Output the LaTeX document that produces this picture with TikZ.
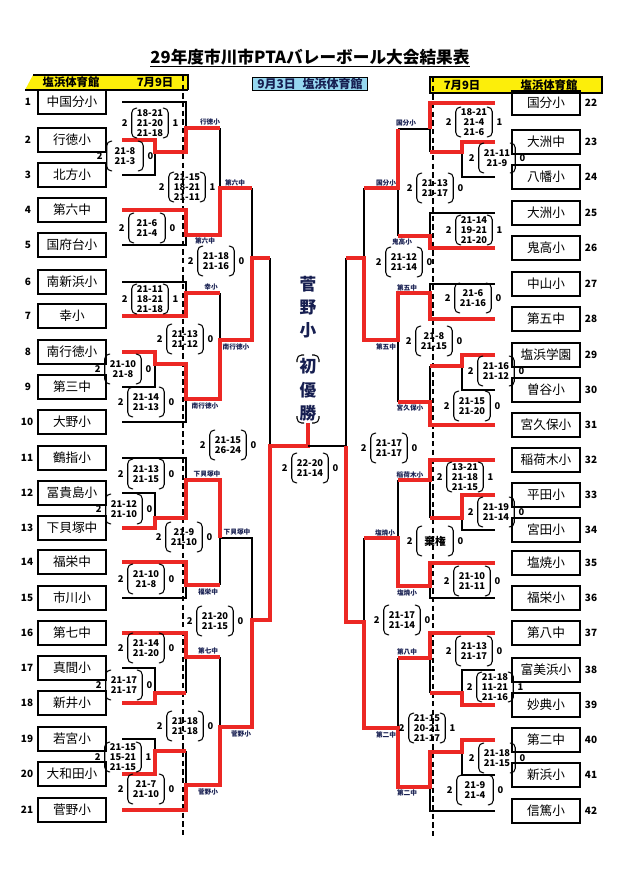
\documentclass[tikz,border=0pt]{standalone}
\usepackage{fontspec}
\setmainfont{Noto Sans CJK JP}
\usetikzlibrary{positioning}
\definecolor{lred}{RGB}{236,40,36}
\definecolor{navy}{RGB}{22,30,80}
\definecolor{hyellow}{RGB}{252,238,10}
\definecolor{hblue}{RGB}{150,215,240}

% score block: name, x, y, set scores, sets won by the other side
\newcommand{\matchres}[5]{%
  \node[scr] (#1) at (#2,#3) {#4};
  \node[pts, left=3pt of #1] (#1l) {2};
  \node[pts, right=3pt of #1] (#1r) {#5};
  \draw[paren] ([xshift=4pt]#1.north west) -- (#1.north west) -- (#1.south west) -- ([xshift=4pt]#1.south west);
  \draw[paren] ([xshift=-4pt]#1.north east) -- (#1.north east) -- (#1.south east) -- ([xshift=-4pt]#1.south east);
}

\begin{document}
\begin{tikzpicture}[x=0.75pt, y=-0.75pt,
    team/.style={draw, line width=0.9pt, minimum width=51pt, minimum height=18pt, inner sep=0pt, font=\fontsize{9.5}{10}\selectfont},
    num/.style={inner sep=0pt, font=\fontsize{7.5}{8}\selectfont\bfseries},
    scr/.style={align=center, inner sep=0pt, minimum width=27pt, minimum height=22pt, font=\fontsize{7}{7.3}\selectfont\bfseries},
    pts/.style={inner sep=0pt, font=\fontsize{7}{8}\selectfont\bfseries},
    paren/.style={line width=0.8pt, rounded corners=3.5pt},
    wlab/.style={inner sep=0pt, text=navy, font=\fontsize{5}{5}\selectfont\bfseries},
    barlab/.style={inner sep=0pt, font=\fontsize{8.5}{9}\selectfont\bfseries},
    champ/.style={align=center, inner sep=0pt, text=navy, font=\fontsize{12.5}{17.5}\selectfont\bfseries},
    lose/.style={line width=1.5pt, black},
    win/.style={line width=2.3pt, lred},
    guide/.style={dashed, line width=0.9pt, dash pattern=on 4pt off 2.5pt}
  ]
  \useasboundingbox (0,0) rectangle (624,874);

  % --- title and headers ---
  \node[inner xsep=0pt, font=\fontsize{12.5}{14}\selectfont\bfseries] (title) at (310,57) {29年度市川市PTAバレーボール大会結果表};
  \draw[line width=1pt] ([yshift=-2.5pt]title.base west) -- ([yshift=-2.5pt]title.base east);

  \fill[hyellow] (25,90) -- (33,75) -- (188,75) -- (188,90) -- cycle;
  \draw[line width=0.8pt] (33,75) -- (188,75) -- (188,90);
  \draw[line width=1.6pt] (25,90) -- (188,90);
  \node[barlab] (hl1) at (71,82) {塩浜体育館};
  \node[barlab] (hl2) at (155,82) {7月9日};

  \fill[hyellow] (430,77) rectangle (602,93);
  \draw[line width=0.8pt] (430,77) rectangle (602,93);
  \draw[line width=1.6pt] (430,93) -- (602,93);
  \node[barlab] (hr1) at (462,85) {7月9日};
  \node[barlab] (hr2) at (549,85) {塩浜体育館};

  \node[draw, line width=0.6pt, fill=hblue, text=navy, minimum width=86pt, minimum height=9.5pt, inner sep=0pt, font=\fontsize{9}{9}\selectfont\bfseries] (hc) at (310,84) {9月3日\hspace{5pt}塩浜体育館};

  % --- dashed guides ---
  \draw[guide] (183,76) -- (183,836);
  \draw[guide] (433,77) -- (433,836);

  % --- left teams ---
  \node[team] (t1) at (72,102) {中国分小};
  \node[team] (t2) at (72,140) {行徳小};
  \node[team] (t3) at (72,175) {北方小};
  \node[team] (t4) at (72,210) {第六中};
  \node[team] (t5) at (72,245) {国府台小};
  \node[team] (t6) at (72,282) {南新浜小};
  \node[team] (t7) at (72,316) {幸小};
  \node[team] (t8) at (72,352) {南行徳小};
  \node[team] (t9) at (72,387) {第三中};
  \node[team] (t10) at (72,422) {大野小};
  \node[team] (t11) at (72,458) {鶴指小};
  \node[team] (t12) at (72,493) {冨貴島小};
  \node[team] (t13) at (72,528) {下貝塚中};
  \node[team] (t14) at (72,562) {福栄中};
  \node[team] (t15) at (72,598) {市川小};
  \node[team] (t16) at (72,633) {第七中};
  \node[team] (t17) at (72,668) {真間小};
  \node[team] (t18) at (72,703) {新井小};
  \node[team] (t19) at (72,739) {若宮小};
  \node[team] (t20) at (72,774) {大和田小};
  \node[team] (t21) at (72,810) {菅野小};

  \node[num] (n1) at (28,102) {1};
  \node[num] (n2) at (28,140) {2};
  \node[num] (n3) at (28,175) {3};
  \node[num] (n4) at (28,210) {4};
  \node[num] (n5) at (28,245) {5};
  \node[num] (n6) at (28,282) {6};
  \node[num] (n7) at (28,316) {7};
  \node[num] (n8) at (28,352) {8};
  \node[num] (n9) at (28,387) {9};
  \node[num] (n10) at (27,422) {10};
  \node[num] (n11) at (27,458) {11};
  \node[num] (n12) at (27,493) {12};
  \node[num] (n13) at (27,528) {13};
  \node[num] (n14) at (27,562) {14};
  \node[num] (n15) at (27,598) {15};
  \node[num] (n16) at (27,633) {16};
  \node[num] (n17) at (27,668) {17};
  \node[num] (n18) at (27,703) {18};
  \node[num] (n19) at (27,739) {19};
  \node[num] (n20) at (27,774) {20};
  \node[num] (n21) at (27,810) {21};

  % --- right teams ---
  \node[team] (t22) at (546,103) {国分小};
  \node[team] (t23) at (546,142) {大洲中};
  \node[team] (t24) at (546,177) {八幡小};
  \node[team] (t25) at (546,213) {大洲小};
  \node[team] (t26) at (546,248) {鬼高小};
  \node[team] (t27) at (546,284) {中山小};
  \node[team] (t28) at (546,319) {第五中};
  \node[team] (t29) at (546,355) {塩浜学園};
  \node[team] (t30) at (546,390) {曽谷小};
  \node[team] (t31) at (546,425) {宮久保小};
  \node[team] (t32) at (546,460) {稲荷木小};
  \node[team] (t33) at (546,495) {平田小};
  \node[team] (t34) at (546,530) {宮田小};
  \node[team] (t35) at (546,563) {塩焼小};
  \node[team] (t36) at (546,598) {福栄小};
  \node[team] (t37) at (546,633) {第八中};
  \node[team] (t38) at (546,670) {富美浜小};
  \node[team] (t39) at (546,705) {妙典小};
  \node[team] (t40) at (546,740) {第二中};
  \node[team] (t41) at (546,775) {新浜小};
  \node[team] (t42) at (546,811) {信篤小};

  \node[num] (n22) at (591,103) {22};
  \node[num] (n23) at (591,142) {23};
  \node[num] (n24) at (591,177) {24};
  \node[num] (n25) at (591,213) {25};
  \node[num] (n26) at (591,248) {26};
  \node[num] (n27) at (591,284) {27};
  \node[num] (n28) at (591,319) {28};
  \node[num] (n29) at (591,355) {29};
  \node[num] (n30) at (591,390) {30};
  \node[num] (n31) at (591,425) {31};
  \node[num] (n32) at (591,460) {32};
  \node[num] (n33) at (591,495) {33};
  \node[num] (n34) at (591,530) {34};
  \node[num] (n35) at (591,563) {35};
  \node[num] (n36) at (591,598) {36};
  \node[num] (n37) at (591,633) {37};
  \node[num] (n38) at (591,670) {38};
  \node[num] (n39) at (591,705) {39};
  \node[num] (n40) at (591,740) {40};
  \node[num] (n41) at (591,775) {41};
  \node[num] (n42) at (591,811) {42};

  % --- left bracket: losers ---
  \draw[lose] (122,102) -| (186,128);
  \draw[lose] (122,175) -| (155,152);
  \draw[lose] (122,245) -| (186,235);
  \draw[lose] (220,128) -- (220,188);
  \draw[lose] (252,188) -- (252,258);
  \draw[lose] (122,282) -| (186,293);
  \draw[lose] (220,293) -- (220,340);
  \draw[lose] (122,387) -| (155,364);
  \draw[lose] (122,422) -| (186,399);
  \draw[lose] (270,258) -- (270,446);
  \draw[lose] (122,458) -| (186,480);
  \draw[lose] (122,493) -| (155,518);
  \draw[lose] (122,598) -| (186,585);
  \draw[lose] (220,585) -- (220,538) -- (252,538) -- (252,620);
  \draw[lose] (122,668) -| (155,693);
  \draw[lose] (186,693) -- (186,657);
  \draw[lose] (220,657) -- (220,727);
  \draw[lose] (122,739) -| (155,751);
  \draw[lose] (186,751) -- (186,785);

  % --- left bracket: winners ---
  \draw[win] (122,140) -| (155,152) -| (186,128) -- (220,128);
  \draw[win] (122,210) -| (186,235) -| (220,188) -- (252,188);
  \draw[win] (122,316) -| (186,293) -- (220,293);
  \draw[win] (122,352) -| (155,364) -| (186,399) -| (220,340) -| (252,258) -- (270,258);
  \draw[win] (122,528) -| (155,518) -| (186,480) -| (220,538);
  \draw[win] (122,562) -| (186,585) -- (220,585);
  \draw[win] (122,633) -| (186,657) -- (220,657);
  \draw[win] (122,703) -| (155,693) -- (186,693);
  \draw[win] (122,774) -| (155,751) -- (186,751);
  \draw[win] (122,810) -| (186,785) -| (220,727) -| (252,620) -| (270,446) -- (308,446) -- (308,423);

  % --- right bracket: losers ---
  \draw[lose] (495,177) -| (462,152);
  \draw[lose] (430,152) -- (430,129) -- (398,129);
  \draw[lose] (495,213) -| (430,236);
  \draw[lose] (398,236) -- (398,188);
  \draw[lose] (364,188) -- (364,258);
  \draw[lose] (495,284) -| (430,293);
  \draw[lose] (495,390) -| (462,366);
  \draw[lose] (430,366) -- (430,402);
  \draw[lose] (398,402) -- (398,340);
  \draw[lose] (346,258) -- (346,446) -- (308,446);
  \draw[lose] (495,530) -| (462,518);
  \draw[lose] (430,518) -- (430,480);
  \draw[lose] (398,480) -- (398,538);
  \draw[lose] (495,598) -| (430,586);
  \draw[lose] (364,538) -- (364,622);
  \draw[lose] (495,670) -| (462,693);
  \draw[lose] (430,693) -- (430,658);
  \draw[lose] (398,658) -- (398,728);
  \draw[lose] (495,775) -| (462,752);
  \draw[lose] (495,811) -| (430,787);

  % --- right bracket: winners ---
  \draw[win] (495,142) -| (462,152) -- (430,152);
  \draw[win] (495,103) -| (430,129);
  \draw[win] (398,129) -- (398,188) -- (364,188);
  \draw[win] (495,248) -| (430,236) -- (398,236);
  \draw[win] (495,319) -| (430,293) -| (398,340) -| (364,258) -- (346,258);
  \draw[win] (495,355) -| (462,366) -- (430,366);
  \draw[win] (495,425) -| (430,402) -- (398,402);
  \draw[win] (495,460) -| (430,480) -- (398,480);
  \draw[win] (495,495) -| (462,518) -- (430,518);
  \draw[win] (495,563) -| (430,586) -| (398,538) -- (364,538);
  \draw[win] (495,633) -| (430,658) -- (398,658);
  \draw[win] (495,705) -| (462,693) -- (430,693);
  \draw[win] (495,740) -| (462,752) -| (430,787) -| (398,728) -| (364,622) -| (346,446);

  % --- winner labels ---
  \node[wlab] (w1) at (210,122) {行徳小};
  \node[wlab] (w2) at (205,241) {第六中};
  \node[wlab] (w3) at (235,183) {第六中};
  \node[wlab] (w4) at (211,287) {幸小};
  \node[wlab] (w5) at (205,406) {南行徳小};
  \node[wlab] (w6) at (236,347) {南行徳小};
  \node[wlab] (w7) at (207,474) {下貝塚中};
  \node[wlab] (w8) at (208,592) {福栄中};
  \node[wlab] (w9) at (237,532) {下貝塚中};
  \node[wlab] (w10) at (208,651) {第七中};
  \node[wlab] (w11) at (208,792) {菅野小};
  \node[wlab] (w12) at (241,734) {菅野小};
  \node[wlab] (w13) at (406,123) {国分小};
  \node[wlab] (w14) at (386,183) {国分小};
  \node[wlab] (w15) at (402,242) {鬼高小};
  \node[wlab] (w16) at (407,288) {第五中};
  \node[wlab] (w17) at (386,347) {第五中};
  \node[wlab] (w18) at (410,408) {宮久保小};
  \node[wlab] (w19) at (410,475) {稲荷木小};
  \node[wlab] (w20) at (385,533) {塩焼小};
  \node[wlab] (w21) at (407,593) {塩焼小};
  \node[wlab] (w22) at (407,652) {第八中};
  \node[wlab] (w23) at (386,735) {第二中};
  \node[wlab] (w24) at (407,793) {第二中};

  % --- scores, left ---
  \matchres{la}{125}{156}{21-8\\21-3}{0}
  \matchres{lb}{150}{123}{18-21\\21-20\\21-18}{1}
  \matchres{lc}{147}{228}{21-6\\21-4}{0}
  \matchres{ld}{187}{187}{21-15\\18-21\\21-11}{1}
  \matchres{le}{150}{299}{21-11\\18-21\\21-18}{1}
  \matchres{lf}{123}{369}{21-10\\21-8}{0}
  \matchres{lg}{146}{402}{21-14\\21-13}{0}
  \matchres{lh}{185}{339}{21-13\\21-12}{0}
  \matchres{li}{216}{261}{21-18\\21-16}{0}
  \matchres{lj}{146}{474}{21-13\\21-15}{0}
  \matchres{lk}{124}{509}{21-12\\21-10}{0}
  \matchres{ll}{146}{579}{21-10\\21-8}{0}
  \matchres{lm}{184}{537}{21-9\\21-10}{0}
  \matchres{ln}{228}{445}{21-15\\26-24}{0}
  \matchres{lo}{215}{621}{21-20\\21-15}{0}
  \matchres{lp}{146}{648}{21-14\\21-20}{0}
  \matchres{lq}{124}{685}{21-17\\21-17}{0}
  \matchres{lr}{185}{726}{21-18\\21-18}{0}
  \matchres{ls}{123}{757}{21-15\\15-21\\21-15}{1}
  \matchres{lt}{146}{789}{21-7\\21-10}{0}

  % --- scores, right ---
  \matchres{ra}{474}{122}{18-21\\21-4\\21-6}{1}
  \matchres{rb}{497}{158}{21-11\\21-9}{0}
  \matchres{rc}{435}{188}{21-13\\21-17}{0}
  \matchres{rd}{474}{230}{21-14\\19-21\\21-20}{1}
  \matchres{re}{404}{262}{21-12\\21-14}{0}
  \matchres{rf}{473}{298}{21-6\\21-16}{0}
  \matchres{rg}{434}{341}{21-8\\21-15}{0}
  \matchres{rh}{496}{371}{21-16\\21-12}{0}
  \matchres{ri}{472}{406}{21-15\\21-20}{0}
  \matchres{rj}{389}{448}{21-17\\21-17}{0}
  \matchres{rk}{465}{477}{13-21\\21-18\\21-15}{1}
  \matchres{rl}{496}{512}{21-19\\21-14}{0}
  \matchres{rm}{435}{541}{{\fontsize{8}{8}\selectfont 棄権}}{0}
  \matchres{rn}{472}{581}{21-10\\21-11}{0}
  \matchres{ro}{402}{620}{21-17\\21-14}{0}
  \matchres{rp}{474}{651}{21-13\\21-17}{0}
  \matchres{rq}{495}{687}{21-18\\11-21\\21-16}{1}
  \matchres{rr}{427}{728}{21-15\\20-21\\21-17}{1}
  \matchres{rs}{497}{758}{21-18\\21-15}{0}
  \matchres{rt}{475}{790}{21-9\\21-4}{0}

  % --- final ---
  \matchres{fin}{310}{468}{22-20\\21-14}{0}
  \node[champ] (cname) at (308,307) {菅\\野\\小};
  \node[champ] (cwin) at (308,390) {初\\優\\勝};
  \draw[paren] (297,362) -- (297,355) -- (304,355);
  \draw[paren] (312,355) -- (319,355) -- (319,362);
  \draw[paren] (297,416) -- (297,423) -- (304,423);
  \draw[paren] (312,423) -- (319,423) -- (319,416);
\end{tikzpicture}
\end{document}
